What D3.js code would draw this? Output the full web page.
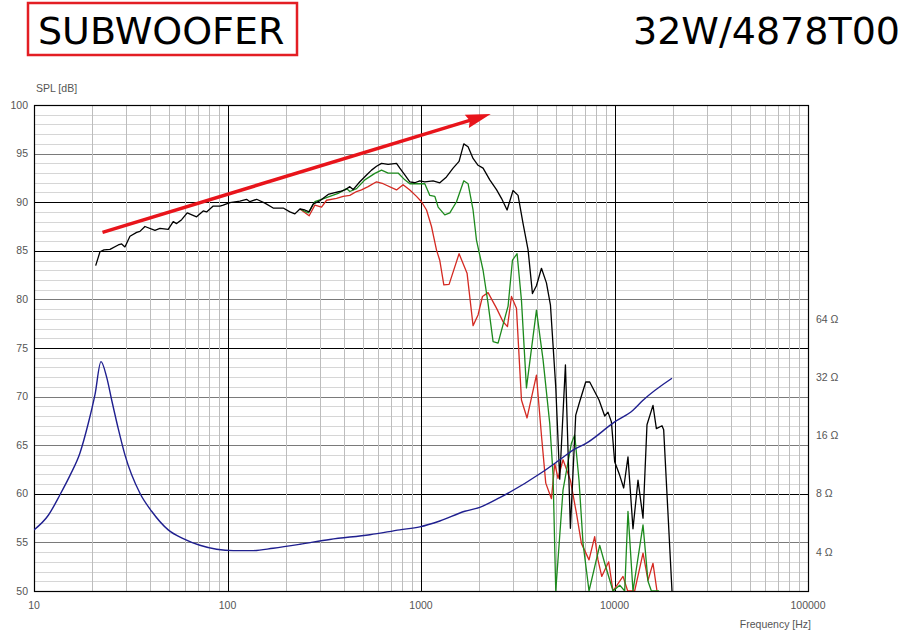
<!DOCTYPE html>
<html>
<head>
<meta charset="utf-8">
<style>
  body { margin: 0; background: #fff; }
  svg { display: block; }
</style>
</head>
<body>
<svg width="911" height="643"></svg>
<script src="https://cdn.jsdelivr.net/npm/d3@7"></script>
<script>
// frequency response, black = 0 deg
var blackFreq = [20.83,21.93,22.99,24.70,27.25,28.38,29.51,31.33,33.93,35.28,37.44,42.17,44.75,49.39,52.42,54.59,57.94,61.91,69.24,74.90,77.98,84.37,91.35,95.0,102.9,115.9,125.5,130.5,141.4,156.1,172.2,194.0,210.1,222.9,236.6,251.1,264.2,277.1,300.1,331.3,358.7,380.7,404.0,428.7,445.9,483.0,523.1,555.1,589.1,625.2,676.2,747.2,777.1,824.7,875.3,928.9,985.8,1046,1155,1251,1354,1465,1573,1664,1751,1858,1972,2093,2267,2455,2605,2785,2990,3174,3369,3576,3767,3950,4193,4449,4667,4970,5211,5577,5917,6304,6610,7101,7446,8318,8900,9256,9638,10020,10640,11155,11740,12460,13225,14040,14720,15810,16460,17600,17950,19820];
var blackSpl = [83.47,84.9,85.1,85.15,85.6,85.7,85.4,86.5,86.9,87.0,87.5,87.1,87.3,87.2,88.0,87.8,88.2,88.9,88.5,89.1,89.0,89.6,89.6,89.7,89.95,90.1,90.3,90.05,90.3,89.9,89.4,89.4,89.0,88.8,89.3,89.2,89.0,89.8,90.15,90.8,90.98,91.1,91.26,91.6,91.3,92.1,92.8,93.3,93.7,94.0,93.9,94.0,93.5,92.8,92.1,92.0,92.2,92.1,92.2,92.0,92.6,93.5,94.2,96.0,95.7,94.5,93.8,93.5,92.3,91.3,90.4,89.2,91.2,90.7,87.8,85.1,80.6,81.4,83.2,81.7,79.4,71.0,61.5,73.25,56.45,68.1,69.5,71.5,71.5,69.65,68.0,68.4,67.4,63.3,61.9,60.6,63.8,56.4,61.4,57.5,67.1,69.1,66.7,67.0,66.6,50];

// green = 30 deg
var greenFreq = [236.6,261.2,282.8,306.2,338.0,373.1,412.2,428.7,464.3,512.6,577.3,625.2,676.2,761.5,824.7,875.3,948,1046,1111,1179,1226,1327,1409,1526,1664,1751,1858,1935,2093,2221,2358,2502,2655,2818,2970,3137,3305,3507,3950,4273,4627,4813,4970,5420,5988,6229,6555,6877,7385,8387,8900,9822,10640,11290,11740,12460,14040,14900,15510,17000];
var greenSpl = [89.3,88.9,90.05,90.3,90.6,90.9,91.4,91.1,91.4,92.3,92.97,93.3,93.0,93.0,92.3,91.9,91.9,91.9,90.7,90.6,89.5,88.7,88.9,90.05,92.2,91.9,89.2,86.1,83.0,79.6,75.65,75.5,77.4,79.3,84.05,84.7,79.9,70.9,78.9,73.8,67.25,62.0,50,60.4,65.2,66.05,61.4,54.9,50,54.7,52.85,50,50.6,50,58.2,50,56.8,51.0,50,50];

// red = 60 deg
var redFreq = [236.6,264.2,282.8,306.2,325.0,366.0,396,428.7,464.3,492.8,533.1,589.1,637.4,747.2,808,875.3,948,1006,1068,1133,1202,1251,1312,1397,1573,1730,1858,1972,2078,2221,2455,2655,2798,2935,3114,3305,3532,3950,4193,4413,4722,4911,5107,5420,5917,6357,6745,7385,7900,8217,8589,9333,9822,11065,11700,12710,14040,14900,15810,16580];
var redSpl = [89.3,88.6,89.7,89.5,90.2,90.4,90.6,90.7,91.1,91.26,91.6,92.1,91.9,91.26,91.8,91.26,90.6,90.05,89.2,87.5,85.1,84.0,81.5,81.55,84.7,82.7,77.3,78.4,80.3,80.7,79.1,77.7,77.2,80.3,79.1,69.65,67.8,72.2,66.0,61.1,59.5,63.1,61.6,63.5,61.4,58.0,54.9,53.2,55.6,53.2,51.5,53.0,50,51.5,50,50,53.9,51.1,52.85,50];

// impedance (ohm)
var impFreq = [10,11.86,13.62,15.35,17.28,19.08,20.66,22.19,23.74,25.20,27.25,29.51,35.28,40.55,49.39,59.03,72.0,87.85,107.0,135.7,172.2,236.6,338,543.9,777,986,1251,1684,2012,2553,4207,5211,6105,7160,10020,12460,14090,19820];
var impOhm = [5.21,6.20,7.91,9.96,13.0,18.5,26.0,38.5,32.0,24.4,17.35,12.7,8.05,6.50,5.21,4.70,4.34,4.14,4.07,4.07,4.19,4.39,4.65,4.92,5.21,5.40,5.79,6.50,6.81,7.64,10.3,11.99,13.45,14.6,18.8,21.6,24.4,31.6];

var yTicks = [50,55,60,65,70,75,80,85,90,95,100];
var yBlack = [60,75,85,90];
var xTicks = [10,100,1000,10000,100000];
var ohmTicks = [4,8,16,32,64];
var arrowFrom = [22.6, 86.9];
var arrowTo = [2293, 99.07];

var svg = d3.select("svg"),
    margin = {top: 105, right: 103, bottom: 52, left: 34},
    width = +svg.attr("width") - margin.left - margin.right,
    height = +svg.attr("height") - margin.top - margin.bottom;

svg.append("rect").attr("width", 911).attr("height", 643).attr("fill", "#fff");

var g = svg.append("g").attr("transform", "translate(" + margin.left + "," + margin.top + ")");

var x = d3.scaleLog().domain([10, 100000]).range([0, width]);
var y = d3.scaleLinear().domain([50, 100]).range([height, 0]);
// 8 ohm sits on 60 dB, one octave = 6 dB
var z = d3.scaleLog().base(2)
    .domain([8 * Math.pow(2, -10 / 6), 8 * Math.pow(2, 40 / 6)])
    .range([height, 0]);

// titles
svg.append("rect")
    .attr("x", 28).attr("y", 3).attr("width", 269).attr("height", 52)
    .attr("fill", "none").attr("stroke", "#e31e24").attr("stroke-width", 2.5);
svg.append("text")
    .attr("x", 38).attr("y", 44)
    .style("font-family", "DejaVu Sans").style("font-size", "38px")
    .text("SUBWOOFER");
svg.append("text")
    .attr("x", 900).attr("y", 44)
    .attr("text-anchor", "end")
    .style("font-family", "DejaVu Sans").style("font-size", "38px")
    .text("32W/4878T00");

// grid
var minorY = d3.range(51, 100);
g.selectAll(".hminor").data(minorY).enter().append("line")
    .attr("x1", 0).attr("x2", width)
    .attr("y1", function(d) { return Math.round(y(d)) + 0.5; })
    .attr("y2", function(d) { return Math.round(y(d)) + 0.5; })
    .attr("stroke", function(d) {
      if (yBlack.indexOf(d) >= 0) return "#000";
      if (d % 5 === 0) return "#7a7a7a";
      return "#d6d6d6";
    })
    .attr("stroke-width", 1);

var minorX = [];
[10, 100, 1000, 10000].forEach(function(dec) {
  for (var k = 2; k <= 9; k++) minorX.push(dec * k);
});
g.selectAll(".vminor").data(minorX).enter().append("line")
    .attr("y1", 0).attr("y2", height)
    .attr("x1", function(d) { return Math.round(x(d)) + 0.5; })
    .attr("x2", function(d) { return Math.round(x(d)) + 0.5; })
    .attr("stroke", "#bdbdbd").attr("stroke-width", 1);

g.selectAll(".vmajor").data([100, 1000, 10000]).enter().append("line")
    .attr("y1", 0).attr("y2", height)
    .attr("x1", function(d) { return Math.round(x(d)) + 0.5; })
    .attr("x2", function(d) { return Math.round(x(d)) + 0.5; })
    .attr("stroke", "#000").attr("stroke-width", 1);

g.append("rect")
    .attr("x", 0.5).attr("y", 0.5).attr("width", width).attr("height", height)
    .attr("fill", "none").attr("stroke", "#000").attr("stroke-width", 1.2);

// axis labels
var tickFont = "Liberation Sans, Arial, sans-serif";
g.selectAll(".ylab").data(yTicks).enter().append("text")
    .attr("x", -6).attr("y", function(d) { return y(d); })
    .attr("dy", "0.35em").attr("text-anchor", "end")
    .style("font-family", tickFont).style("font-size", "10.5px").attr("fill", "#555")
    .text(function(d) { return d; });

g.selectAll(".xlab").data(xTicks).enter().append("text")
    .attr("x", function(d) { return x(d); }).attr("y", height + 18)
    .attr("text-anchor", "middle")
    .style("font-family", tickFont).style("font-size", "10.5px").attr("fill", "#555")
    .text(function(d) { return d; });

g.selectAll(".zlab").data(ohmTicks).enter().append("text")
    .attr("x", width + 8).attr("y", function(d) { return z(d); })
    .attr("dy", "0.35em")
    .style("font-family", tickFont).style("font-size", "10.5px").attr("fill", "#555")
    .text(function(d) { return d + " \u03A9"; });

g.append("text")
    .attr("x", 2).attr("y", -13)
    .style("font-family", tickFont).style("font-size", "10.5px").attr("fill", "#555")
    .text("SPL [dB]");

g.append("text")
    .attr("x", width + 3).attr("y", height + 37)
    .attr("text-anchor", "end")
    .style("font-family", tickFont).style("font-size", "10.5px").attr("fill", "#555")
    .text("Frequency [Hz]");

// curves
g.append("clipPath").attr("id", "plotclip")
  .append("rect").attr("x", 0).attr("y", 0).attr("width", width).attr("height", height);

var curves = g.append("g").attr("clip-path", "url(#plotclip)");

function splLine(freq, spl) {
  var pts = freq.map(function(f, i) { return [f, spl[i]]; });
  return d3.line()
    .x(function(d) { return x(d[0]); })
    .y(function(d) { return y(d[1]); })(pts);
}

curves.append("path").attr("d", splLine(redFreq, redSpl))
    .attr("fill", "none").attr("stroke", "#d42a22").attr("stroke-width", 1.3).attr("stroke-linejoin", "round");
curves.append("path").attr("d", splLine(greenFreq, greenSpl))
    .attr("fill", "none").attr("stroke", "#1d8a1d").attr("stroke-width", 1.3).attr("stroke-linejoin", "round");
curves.append("path").attr("d", splLine(blackFreq, blackSpl))
    .attr("fill", "none").attr("stroke", "#000").attr("stroke-width", 1.3).attr("stroke-linejoin", "round");

var impPts = impFreq.map(function(f, i) { return [f, impOhm[i]]; });
curves.append("path")
    .attr("d", d3.line()
      .x(function(d) { return x(d[0]); })
      .y(function(d) { return z(d[1]); })
      .curve(d3.curveMonotoneX)(impPts))
    .attr("fill", "none").attr("stroke", "#1f1f8f").attr("stroke-width", 1.4);

// red arrow
var ax0 = x(arrowFrom[0]), ay0 = y(arrowFrom[1]),
    ax1 = x(arrowTo[0]), ay1 = y(arrowTo[1]);
var ang = Math.atan2(ay1 - ay0, ax1 - ax0),
    headLen = 25, headW = 7;
var bx = ax1 - headLen * Math.cos(ang), by = ay1 - headLen * Math.sin(ang);
g.append("line")
    .attr("x1", ax0).attr("y1", ay0)
    .attr("x2", bx + 4 * Math.cos(ang)).attr("y2", by + 4 * Math.sin(ang))
    .attr("stroke", "#e8141b").attr("stroke-width", 3.5);
g.append("polygon")
    .attr("points", [
      [ax1, ay1],
      [bx - headW * Math.sin(ang), by + headW * Math.cos(ang)],
      [bx + 3 * Math.cos(ang), by + 3 * Math.sin(ang)],
      [bx + headW * Math.sin(ang), by - headW * Math.cos(ang)]
    ].map(function(p) { return p.join(","); }).join(" "))
    .attr("fill", "#e8141b");
</script>
</body>
</html>
